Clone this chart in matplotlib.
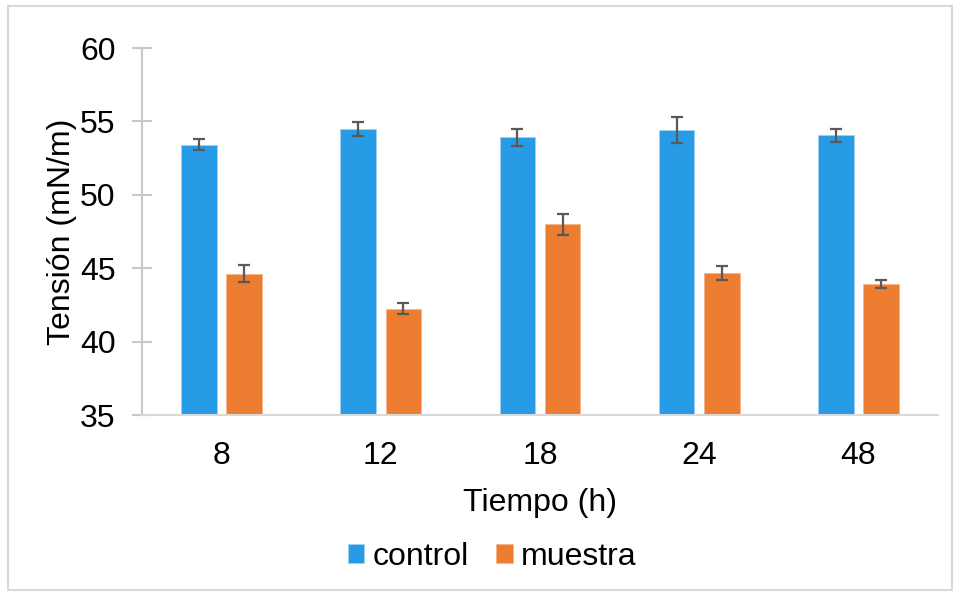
import numpy as np
import matplotlib.pyplot as plt
from matplotlib.patches import Rectangle

plt.rcParams['font.family'] = ['Liberation Sans', 'DejaVu Sans']

tiempos = ['8', '12', '18', '24', '48']
control = [53.41, 54.48, 53.91, 54.41, 54.07]
control_err = [0.38, 0.45, 0.59, 0.86, 0.44]
muestra = [44.63, 42.25, 48.0, 44.66, 43.95]
muestra_err = [0.56, 0.35, 0.72, 0.49, 0.28]

fs = 23

fig = plt.figure(figsize=(9.6, 5.96), dpi=100)
ax = fig.add_axes([142/960, 1 - 415/596, 796/960, 367/596])

x = np.arange(len(tiempos))
w = 0.224
off = 0.142
err_kw = dict(ecolor='#595959', elinewidth=1.6, capsize=4.5, capthick=1.6)
ax.bar(x - off, control, w, bottom=0, color='#279BE5', edgecolor='#9fd0f2', linewidth=0.6,
       yerr=control_err, error_kw=err_kw, label='control')
ax.bar(x + off, muestra, w, bottom=0, color='#ED7D31', edgecolor='#f5b58a', linewidth=0.6,
       yerr=muestra_err, error_kw=err_kw, label='muestra')

ax.set_ylim(35, 60)
ax.set_xlim(-0.5, 4.5)
ax.set_yticks([35, 40, 45, 50, 55, 60])
ax.set_xticks(x)
ax.set_xticklabels(tiempos)

for s in ['top', 'right']:
    ax.spines[s].set_visible(False)
ax.spines['left'].set_color('#c8c8c8')
ax.spines['left'].set_linewidth(1.5)
ax.spines['bottom'].set_color('#d9d9d9')
ax.spines['bottom'].set_linewidth(1.5)
ax.tick_params(axis='y', direction='inout', length=14, width=1.5, color='#c8c8c8',
               labelsize=fs, pad=12)
ax.tick_params(axis='x', length=0, labelsize=fs, pad=19)

ax.set_xlabel('Tiempo (h)', fontsize=fs, labelpad=12)
ax.set_ylabel('Tensión (mN/m)', fontsize=fs, labelpad=2)

fig.legend(*ax.get_legend_handles_labels(), loc='center',
           bbox_to_anchor=(492/960, 1 - 557/596), ncol=2, frameon=False,
           fontsize=fs, handlelength=0.53, handleheight=0.53, handletextpad=0.25,
           columnspacing=0.85, borderpad=0, borderaxespad=0)

fig.patches.append(Rectangle((8/960, 6/596), 944/960, 584/596, transform=fig.transFigure,
                             fill=False, edgecolor='#d9d9d9', linewidth=1.5))

fig.savefig('out.png', dpi=100)
